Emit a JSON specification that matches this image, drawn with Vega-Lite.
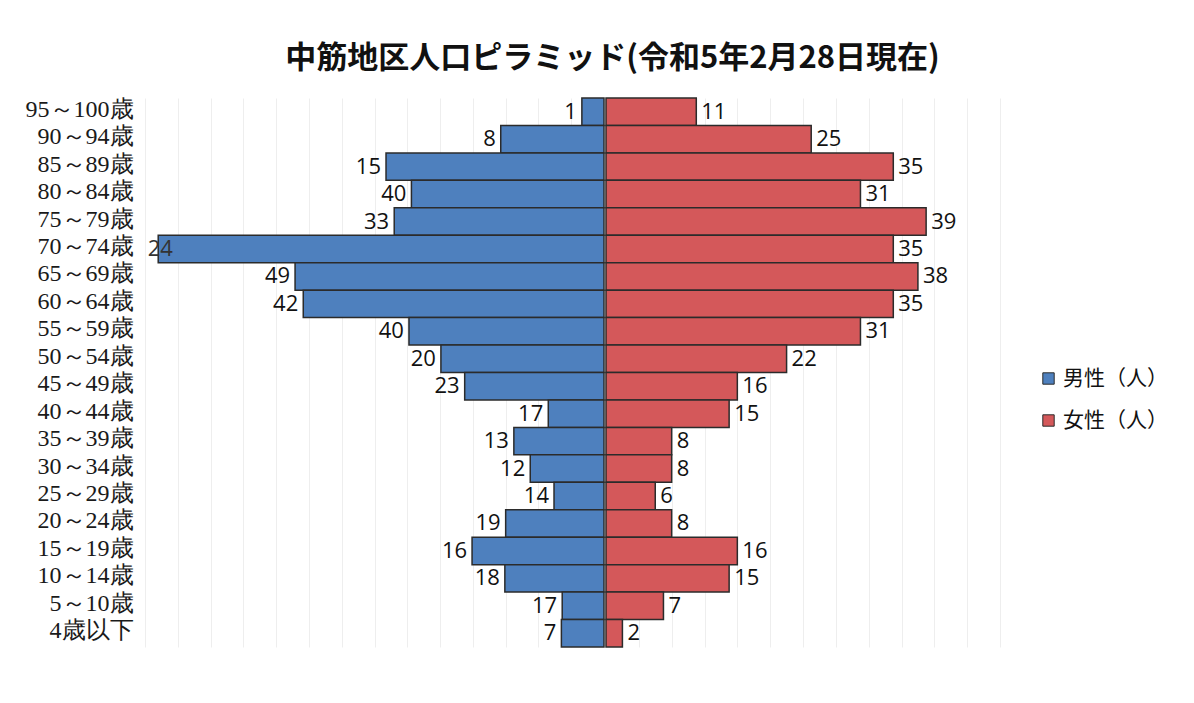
{
  "$schema": "https://vega.github.io/schema/vega-lite/v6.json",
  "autosize": {"type": "pad"},
  "padding": {"left": 25, "top": 43, "right": 0, "bottom": 0},
  "background": "white",
  "title": {
    "text": "中筋地区人口ピラミッド(令和5年2月28日現在)",
    "font": "Noto Sans CJK JP",
    "fontSize": 31,
    "fontWeight": "bold",
    "color": "#111111",
    "anchor": "middle",
    "dx": 16,
    "offset": 22
  },
  "data": {
    "values": [
      {"age": "95～100歳", "sex": "男性（人）", "value": 2.7, "label": "1"},
      {"age": "90～94歳", "sex": "男性（人）", "value": 12.6, "label": "8"},
      {"age": "85～89歳", "sex": "男性（人）", "value": 26.6, "label": "15"},
      {"age": "80～84歳", "sex": "男性（人）", "value": 23.5, "label": "40"},
      {"age": "75～79歳", "sex": "男性（人）", "value": 25.6, "label": "33"},
      {"age": "70～74歳", "sex": "男性（人）", "value": 54.4, "label": "24"},
      {"age": "65～69歳", "sex": "男性（人）", "value": 37.7, "label": "49"},
      {"age": "60～64歳", "sex": "男性（人）", "value": 36.7, "label": "42"},
      {"age": "55～59歳", "sex": "男性（人）", "value": 23.8, "label": "40"},
      {"age": "50～54歳", "sex": "男性（人）", "value": 19.9, "label": "20"},
      {"age": "45～49歳", "sex": "男性（人）", "value": 17, "label": "23"},
      {"age": "40～44歳", "sex": "男性（人）", "value": 6.8, "label": "17"},
      {"age": "35～39歳", "sex": "男性（人）", "value": 11, "label": "13"},
      {"age": "30～34歳", "sex": "男性（人）", "value": 9, "label": "12"},
      {"age": "25～29歳", "sex": "男性（人）", "value": 6.1, "label": "14"},
      {"age": "20～24歳", "sex": "男性（人）", "value": 12, "label": "19"},
      {"age": "15～19歳", "sex": "男性（人）", "value": 16.1, "label": "16"},
      {"age": "10～14歳", "sex": "男性（人）", "value": 12.1, "label": "18"},
      {"age": "5～10歳", "sex": "男性（人）", "value": 5.1, "label": "17"},
      {"age": "4歳以下", "sex": "男性（人）", "value": 5.2, "label": "7"},
      {"age": "95～100歳", "sex": "女性（人）", "value": 11, "label": "11"},
      {"age": "90～94歳", "sex": "女性（人）", "value": 25, "label": "25"},
      {"age": "85～89歳", "sex": "女性（人）", "value": 35, "label": "35"},
      {"age": "80～84歳", "sex": "女性（人）", "value": 31, "label": "31"},
      {"age": "75～79歳", "sex": "女性（人）", "value": 39, "label": "39"},
      {"age": "70～74歳", "sex": "女性（人）", "value": 35, "label": "35"},
      {"age": "65～69歳", "sex": "女性（人）", "value": 38, "label": "38"},
      {"age": "60～64歳", "sex": "女性（人）", "value": 35, "label": "35"},
      {"age": "55～59歳", "sex": "女性（人）", "value": 31, "label": "31"},
      {"age": "50～54歳", "sex": "女性（人）", "value": 22, "label": "22"},
      {"age": "45～49歳", "sex": "女性（人）", "value": 16, "label": "16"},
      {"age": "40～44歳", "sex": "女性（人）", "value": 15, "label": "15"},
      {"age": "35～39歳", "sex": "女性（人）", "value": 8, "label": "8"},
      {"age": "30～34歳", "sex": "女性（人）", "value": 8, "label": "8"},
      {"age": "25～29歳", "sex": "女性（人）", "value": 6, "label": "6"},
      {"age": "20～24歳", "sex": "女性（人）", "value": 8, "label": "8"},
      {"age": "15～19歳", "sex": "女性（人）", "value": 16, "label": "16"},
      {"age": "10～14歳", "sex": "女性（人）", "value": 15, "label": "15"},
      {"age": "5～10歳", "sex": "女性（人）", "value": 7, "label": "7"},
      {"age": "4歳以下", "sex": "女性（人）", "value": 2, "label": "2"}
    ]
  },
  "spacing": 0,
  "hconcat": [
    {
      "width": 463,
      "height": 549,
      "transform": [{"filter": "datum.sex === '男性（人）'"}],
      "encoding": {
        "y": {
          "field": "age",
          "type": "nominal",
          "sort": ["95～100歳", "90～94歳", "85～89歳", "80～84歳", "75～79歳", "70～74歳", "65～69歳", "60～64歳", "55～59歳", "50～54歳", "45～49歳", "40～44歳", "35～39歳", "30～34歳", "25～29歳", "20～24歳", "15～19歳", "10～14歳", "5～10歳", "4歳以下"],
          "scale": {"paddingInner": 0, "paddingOuter": 0},
          "axis": {
            "title": null,
            "domain": false,
            "ticks": false,
            "labelPadding": 8,
            "labelFont": "Liberation Serif",
            "labelFontSize": 24,
            "labelColor": "#1a1a1a",
            "labelAlign": "right",
            "labelOffset": -2
          }
        },
        "x": {
          "field": "value",
          "type": "quantitative",
          "scale": {"domain": [0, 56.5], "reverse": true, "nice": false, "zero": true},
          "axis": {
            "title": null,
            "labels": false,
            "ticks": false,
            "domain": false,
            "grid": true,
            "gridColor": "#eeeeee",
            "values": [4, 8, 12, 16, 20, 24, 28, 32, 36, 40, 44, 48, 52, 56]
          }
        }
      },
      "layer": [
        {
          "mark": {"type": "bar", "stroke": "#2b2b2b", "strokeWidth": 1.5},
          "encoding": {
            "color": {
              "field": "sex",
              "type": "nominal",
              "scale": {"domain": ["男性（人）", "女性（人）"], "range": ["#4E80BE", "#D4585A"]},
              "legend": {
                "title": null,
                "orient": "none",
                "legendX": 897,
                "legendY": 270,
                "symbolType": "square",
                "symbolSize": 130,
                "symbolStrokeColor": "#333333",
                "symbolStrokeWidth": 1,
                "labelFont": "Noto Sans CJK JP",
                "labelFontSize": 21,
                "labelColor": "#111111",
                "labelLimit": 300,
                "rowPadding": 20
              }
            }
          }
        },
        {
          "transform": [{"filter": "datum.value <= 50"}],
          "mark": {"type": "text", "align": "right", "baseline": "middle", "dx": -5, "font": "Open Sans", "fontSize": 22, "color": "#111111"},
          "encoding": {"text": {"field": "label", "type": "nominal"}}
        },
        {
          "transform": [{"filter": "datum.value > 50"}],
          "mark": {"type": "text", "align": "center", "baseline": "middle", "dx": 2, "font": "Open Sans", "fontSize": 22, "color": "#333333"},
          "encoding": {"text": {"field": "label", "type": "nominal"}}
        }
      ]
    },
    {
      "width": 394,
      "height": 549,
      "transform": [{"filter": "datum.sex === '女性（人）'"}],
      "encoding": {
        "y": {
          "field": "age",
          "type": "nominal",
          "sort": ["95～100歳", "90～94歳", "85～89歳", "80～84歳", "75～79歳", "70～74歳", "65～69歳", "60～64歳", "55～59歳", "50～54歳", "45～49歳", "40～44歳", "35～39歳", "30～34歳", "25～29歳", "20～24歳", "15～19歳", "10～14歳", "5～10歳", "4歳以下"],
          "scale": {"paddingInner": 0, "paddingOuter": 0},
          "axis": null
        },
        "x": {
          "field": "value",
          "type": "quantitative",
          "scale": {"domain": [0, 48], "nice": false, "zero": true},
          "axis": {
            "title": null,
            "labels": false,
            "ticks": false,
            "domain": false,
            "grid": true,
            "gridColor": "#eeeeee",
            "values": [4, 8, 12, 16, 20, 24, 28, 32, 36, 40, 44, 48]
          }
        }
      },
      "layer": [
        {
          "mark": {"type": "bar", "stroke": "#2b2b2b", "strokeWidth": 1.5},
          "encoding": {
            "color": {
              "field": "sex",
              "type": "nominal",
              "scale": {"domain": ["男性（人）", "女性（人）"], "range": ["#4E80BE", "#D4585A"]}
            }
          }
        },
        {
          "mark": {"type": "text", "align": "left", "baseline": "middle", "dx": 5, "font": "Open Sans", "fontSize": 22, "color": "#111111"},
          "encoding": {"text": {"field": "label", "type": "nominal"}}
        }
      ]
    }
  ],
  "config": {
    "view": {"stroke": null},
    "concat": {"spacing": 0}
  }
}
